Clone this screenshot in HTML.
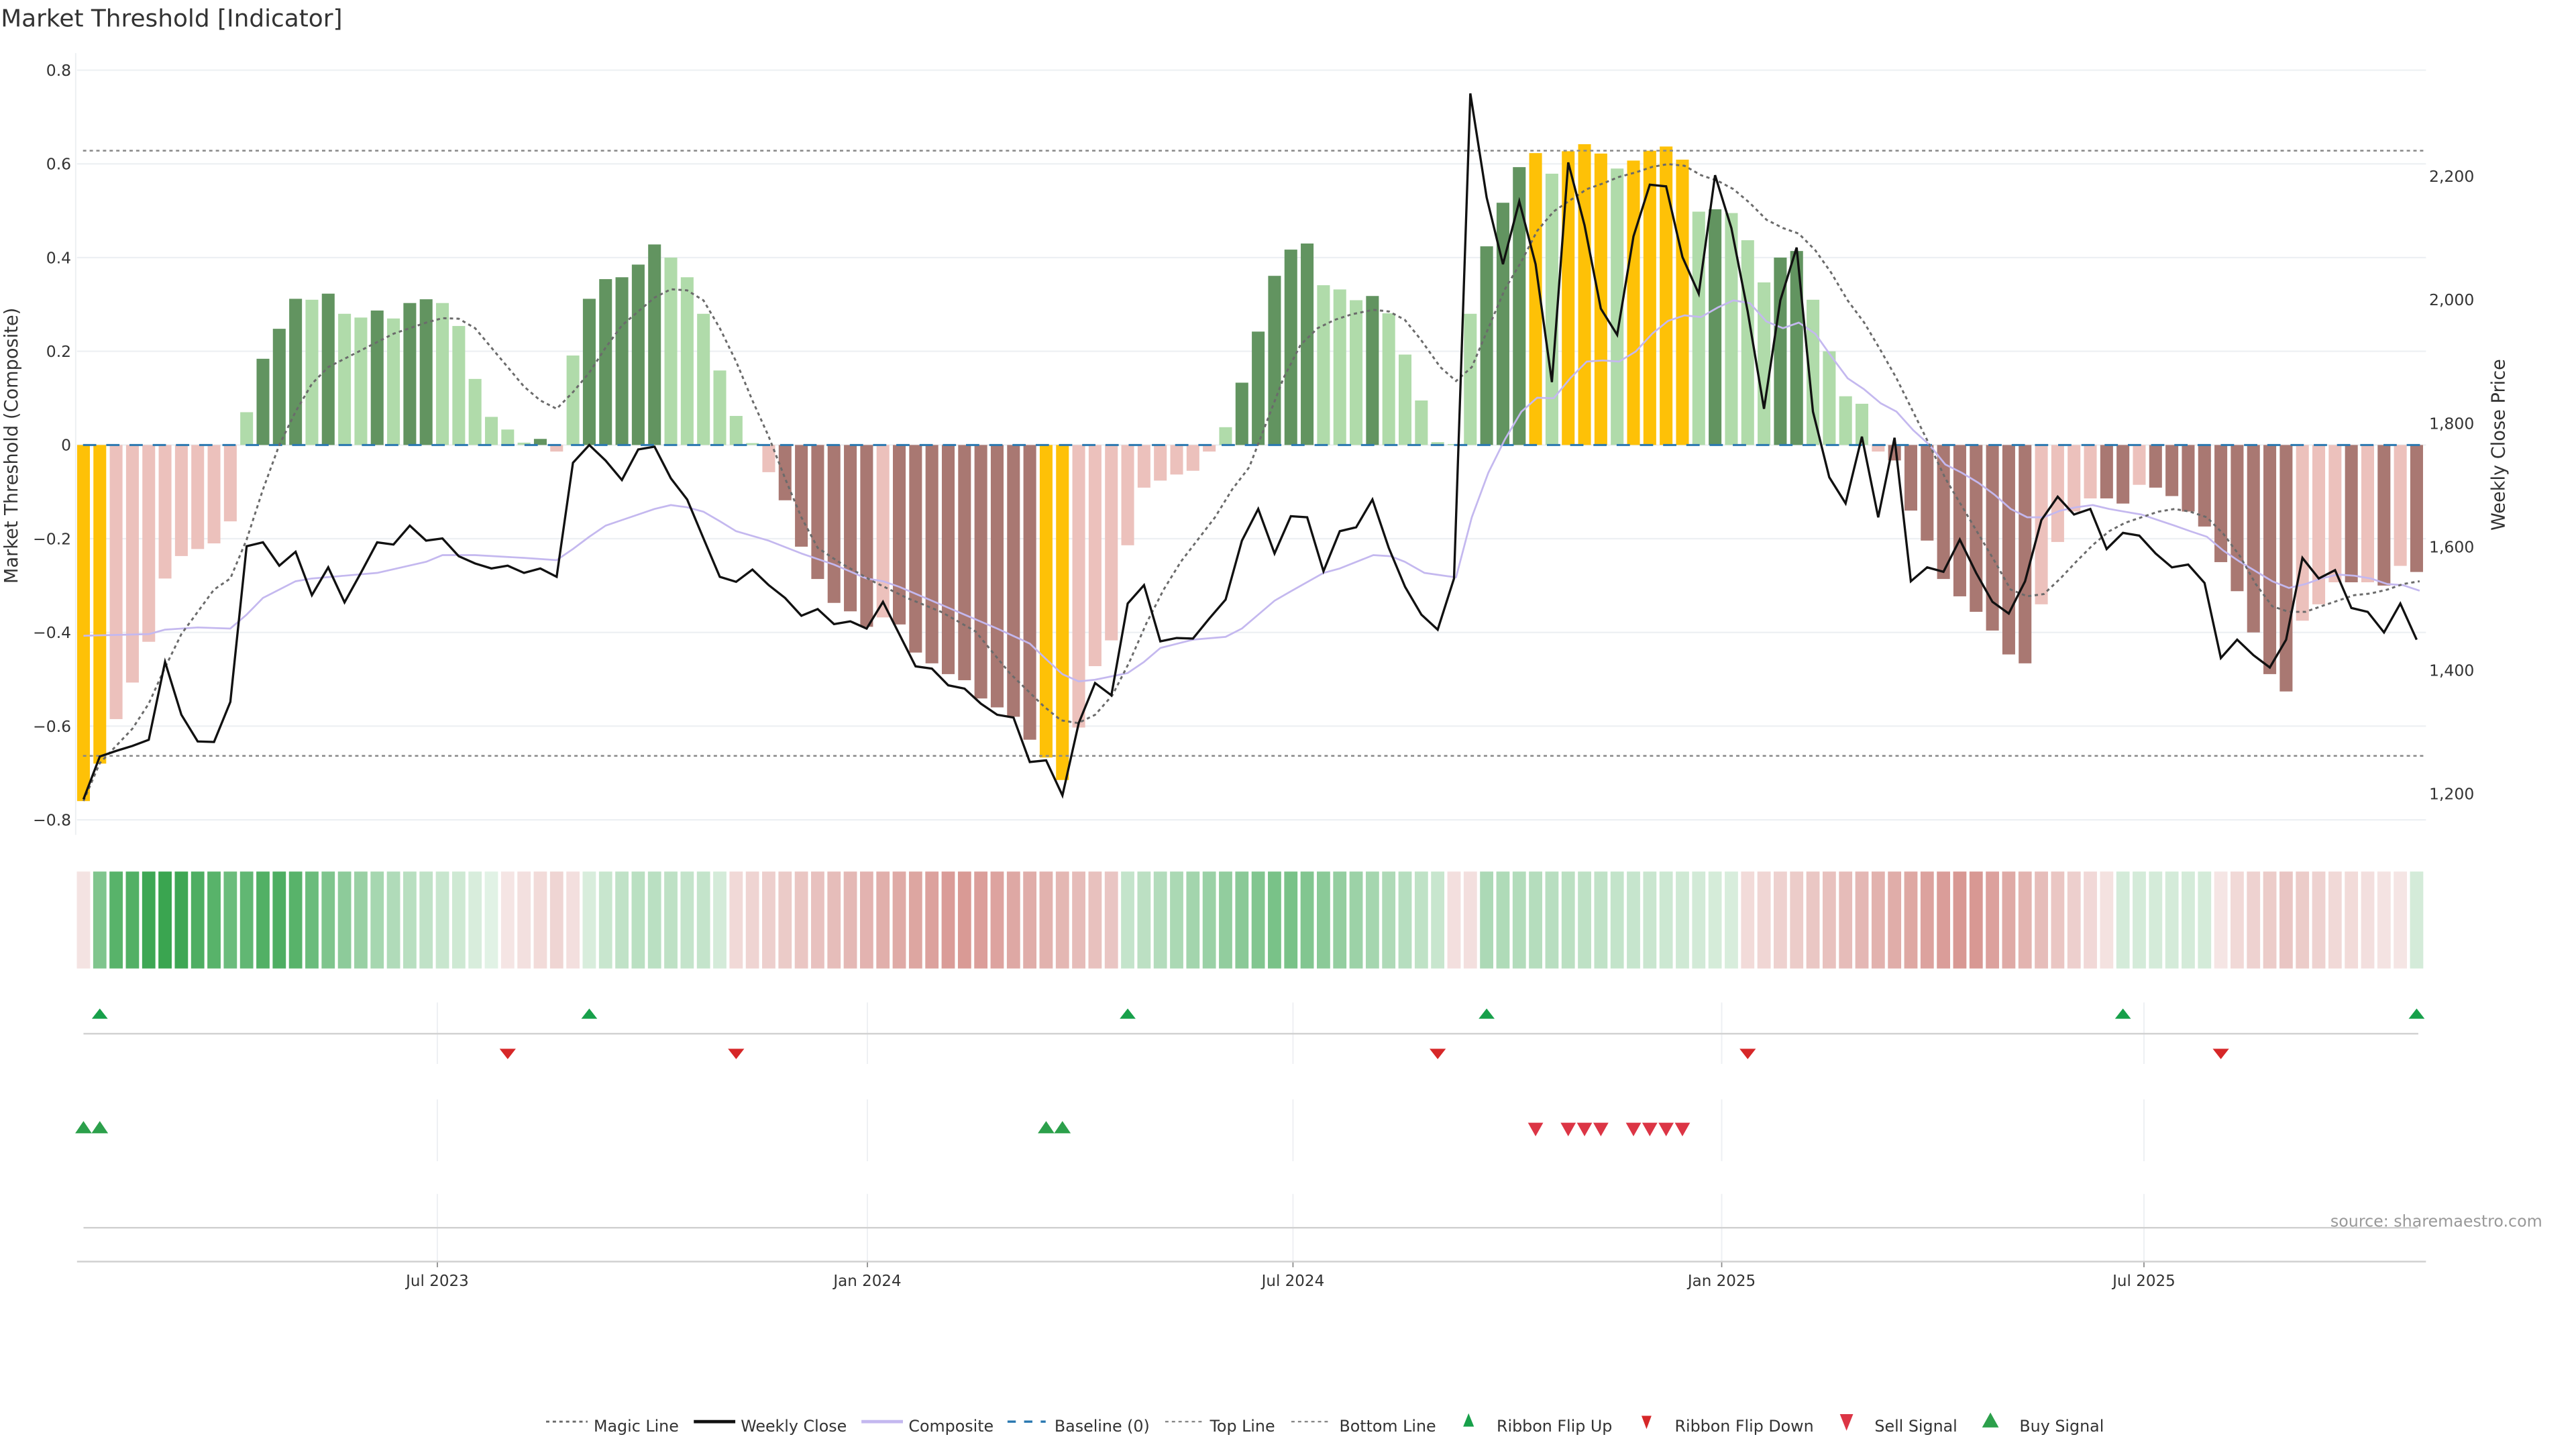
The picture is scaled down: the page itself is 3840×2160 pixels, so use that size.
<!DOCTYPE html>
<html><head><meta charset="utf-8">
<style>
html,body{margin:0;padding:0;background:#fff;}
svg{display:block;}
text{font-family:"DejaVu Sans","Liberation Sans",sans-serif;}
</style></head>
<body>
<svg id="c" xmlns="http://www.w3.org/2000/svg" width="3840" height="2160" viewBox="0 0 1552 873" preserveAspectRatio="none">
<rect x="0" y="0" width="1552" height="873" fill="#fff"/>
<text x="0.5" y="16" font-size="14.5" fill="#333">Market Threshold [Indicator]</text>
<g id="grid"></g>
<g id="bars"></g>
<g id="lines"></g>
<g id="lower"></g>
<g id="legend"></g>
</svg>
<script>
(function(){
var NS="http://www.w3.org/2000/svg";
function el(parent,tag,attrs,txt){var e=document.createElementNS(NS,tag);for(var k in attrs)e.setAttribute(k,attrs[k]);if(txt!==undefined)e.textContent=txt;document.getElementById(parent).appendChild(e);return e;}
var X0=50.3,DX=9.83,L=46.4,R=1461.6;
function bx(i){return X0+(i-1)*DX;}
function vy(v){return 268.1-v*282.3;}
function zy(z){return z/2.984;}
var vals=[0.8,0.6,0.4,0.2,0,-0.2,-0.4,-0.6,-0.8];
vals.forEach(function(v){var y=vy(v);
 el("grid","line",{x1:L,x2:R,y1:y,y2:y,stroke:"#edf0f3","stroke-width":0.9});
 var lab=(v===0)?"0":(v<0?"\u22120."+Math.round(Math.abs(v)*10):"0."+Math.round(v*10));
 el("grid","text",{x:42.9,y:y+3.4,"font-size":9.5,"text-anchor":"end",fill:"#333"},lab);
});
el("grid","line",{x1:45.6,x2:45.6,y1:32,y2:503,stroke:"#eceff2","stroke-width":0.8});
var prices=[2200,2000,1800,1600,1400,1200];
prices.forEach(function(p){var y=106.2+(2200-p)/200*74.4;
 el("grid","text",{x:1463.5,y:y+3.4,"font-size":9.5,fill:"#333"},p.toLocaleString("en-US"));});
el("grid","text",{x:0,y:0,"font-size":11,fill:"#333","text-anchor":"middle",transform:"translate(10.5,268.5) rotate(-90)"},"Market Threshold (Composite)");
el("grid","text",{x:0,y:0,"font-size":11,fill:"#333","text-anchor":"middle",transform:"translate(1509,268) rotate(-90)"},"Weekly Close Price");
var B=[[-0.76,'Y'],[-0.68,'Y'],[-0.585,'r'],[-0.507,'r'],[-0.42,'r'],[-0.285,'r'],[-0.237,'r'],[-0.222,'r'],[-0.21,'r'],[-0.163,'r'],
[0.07,'g'],[0.184,'G'],[0.248,'G'],[0.312,'G'],[0.31,'g'],[0.323,'G'],[0.28,'g'],[0.272,'g'],[0.287,'G'],[0.27,'g'],
[0.303,'G'],[0.311,'G'],[0.303,'g'],[0.254,'g'],[0.141,'g'],[0.06,'g'],[0.033,'g'],[0.005,'g'],[0.013,'G'],[-0.014,'r'],
[0.191,'g'],[0.312,'G'],[0.354,'G'],[0.358,'G'],[0.385,'G'],[0.428,'G'],[0.4,'g'],[0.358,'g'],[0.28,'g'],[0.159,'g'],
[0.062,'g'],[0.004,'g'],[-0.058,'r'],[-0.118,'R'],[-0.217,'R'],[-0.286,'R'],[-0.337,'R'],[-0.355,'R'],[-0.388,'R'],
[-0.368,'r'],[-0.383,'R'],[-0.443,'R'],[-0.466,'R'],[-0.489,'R'],[-0.502,'R'],[-0.541,'R'],[-0.56,'R'],[-0.58,'R'],[-0.629,'R'],
[-0.667,'Y'],[-0.715,'Y'],[-0.603,'r'],[-0.472,'r'],[-0.417,'r'],[-0.214,'r'],[-0.091,'r'],[-0.076,'r'],[-0.063,'r'],[-0.055,'r'],
[-0.014,'r'],[0.038,'g'],[0.133,'G'],[0.242,'G'],[0.361,'G'],[0.417,'G'],[0.43,'G'],[0.341,'g'],
[0.332,'g'],[0.309,'g'],[0.318,'G'],[0.281,'g'],[0.193,'g'],[0.095,'g'],[0.006,'g'],[0.002,'g'],[0.28,'g'],[0.424,'G'],
[0.517,'G'],[0.593,'G'],[0.623,'Y'],[0.579,'g'],[0.627,'Y'],[0.642,'Y'],[0.622,'Y'],[0.59,'g'],[0.607,'Y'],[0.628,'Y'],
[0.637,'Y'],[0.609,'Y'],[0.498,'g'],[0.503,'G'],[0.495,'g'],[0.437,'g'],[0.347,'g'],[0.4,'G'],[0.414,'G'],[0.31,'g'],
[0.2,'g'],[0.104,'g'],[0.088,'g'],[-0.014,'r'],[-0.033,'R'],[-0.14,'R'],[-0.204,'R'],[-0.286,'R'],[-0.323,'R'],[-0.356,'R'],
[-0.396,'R'],[-0.447,'R'],[-0.466,'R'],[-0.34,'r'],[-0.207,'r'],[-0.142,'r'],[-0.114,'r'],[-0.114,'R'],[-0.125,'R'],[-0.085,'r'],
[-0.091,'R'],[-0.109,'R'],[-0.142,'R'],[-0.174,'R'],[-0.25,'R'],[-0.312,'R'],[-0.4,'R'],[-0.489,'R'],[-0.526,'R'],[-0.375,'r'],
[-0.34,'r'],[-0.293,'r'],[-0.293,'R'],[-0.293,'r'],[-0.3,'R'],[-0.258,'r'],[-0.271,'R']];
var COL={Y:"#fec107",G:"#629460",g:"#b0dbaa",R:"#a97872",r:"#ecc1bc"};
var BW=7.7;
B.forEach(function(b,k){var x=bx(k+1)-BW/2,y0=vy(0),y1=vy(b[0]);
 el("bars","rect",{x:x,y:Math.min(y0,y1),width:BW,height:Math.max(0.4,Math.abs(y1-y0)),fill:COL[b[1]]});});
el("lines","line",{x1:50,x2:R,y1:90.8,y2:90.8,stroke:"#888","stroke-width":1,"stroke-dasharray":"2,2"});
el("lines","line",{x1:50,x2:R,y1:455.4,y2:455.4,stroke:"#888","stroke-width":1,"stroke-dasharray":"2,2"});
el("lines","line",{x1:50,x2:R,y1:268.1,y2:268.1,stroke:"#2a78b0","stroke-width":1.2,"stroke-dasharray":"8,6"});
function poly(pts,attrs){attrs.points=pts.map(function(p){return p[0].toFixed(2)+","+p[1].toFixed(2);}).join(" ");attrs.fill="none";el("lines","polyline",attrs);}
function z4(zx){return 505.2+zx*0.2062;}
function z2(zx){return 808.4+zx*0.4747;}
var comp=[];
[[1,1143],[5,1140],[6,1132],[8,1128],[10,1130],[11,1105],[12,1075],[14,1045],[15,1040],[17,1035],[19,1030],[22,1010],[23,998],[25,998],[28,1003],[30,1007],[31,987],[32,965],[33,945],[34,935],[36,915],[37,908],[38,912],[39,920],[40,937],[41,955],[43,972],[45,995],[47,1015],[49,1040],[50,1045],[51,1055],[53,1080],[55,1105],[57,1130],[59,1157],[60,1185],[61,1212],[62,1225],[63,1222],[65,1210],[66,1190],[67,1165],[69,1150],[71,1145],[72,1130],[73,1105],[74,1080],[75,1063],[77,1030],[78,1022]].forEach(function(p){comp.push([bx(p[0]),zy(p[1])]);});
[[40,998],[62,1000],[80,1010],[105,1030],[145,1038],[165,930],[186,850],[207,790],[228,740],[248,715],[269,716],[290,680],[311,650],[331,648],[352,650],[373,632],[394,600],[414,577],[435,567],[456,570],[477,553],[497,540],[518,545],[539,578],[560,590],[580,580],[601,600],[621,640],[642,680],[663,700],[684,725],[704,740],[725,773],[746,800],[766,835],[787,850],[808,868],[829,890],[849,915],[870,930],[891,930],[912,918],[932,912],[953,908],[974,915],[994,920],[1015,925],[1036,935],[1057,945],[1077,955],[1098,965],[1119,990],[1140,1010],[1160,1027],[1181,1045],[1202,1057],[1223,1050],[1243,1040],[1264,1033],[1285,1035],[1306,1040],[1327,1050],[1347,1052],[1368,1062]].forEach(function(p){comp.push([z2(p[0]),zy(p[1])]);});
poly(comp,{stroke:"#c4b8ef","stroke-width":1.1,"stroke-linejoin":"round"});
var mg=[];
[[1,1440],[2,1372],[4,1310],[5,1265],[6,1200],[7,1140],[8,1100],[9,1060],[10,1040],[11,970],[12,880],[13,800],[14,740],[15,690],[16,660],[17,645],[18,630],[19,615],[20,600],[21,590],[22,580],[23,572],[24,573],[25,590],[26,625],[27,660],[28,695],[29,720],[30,735],[31,705],[32,670],[33,625],[34,585],[35,560],[36,535],[37,520],[38,522],[39,540],[40,590],[41,650],[42,720],[43,785],[44,860],[45,930],[46,985]].forEach(function(p){mg.push([bx(p[0]),zy(p[1])]);});
[[0,1010],[100,1045],[200,1075],[300,1100],[400,1135],[500,1210],[600,1270],[650,1295],[700,1300],[750,1285],[800,1250],[850,1190],[900,1120],[950,1060],[1000,1010],[1050,970],[1100,930],[1150,880],[1200,840],[1250,760],[1300,680],[1350,620],[1400,590],[1450,575],[1500,565]].forEach(function(p){mg.push([z4(p[0]),zy(p[1])]);});
[[40,557],[60,560],[80,575],[100,610],[125,660],[145,685],[165,660],[186,590],[207,520],[228,470],[248,415],[269,380],[290,360],[311,340],[331,330],[352,318],[373,310],[394,300],[414,295],[435,298],[456,315],[477,325],[497,340],[518,365],[539,395],[560,410],[580,420],[601,450],[621,490],[642,540],[663,580],[684,630],[704,680],[725,740],[746,800],[766,860],[787,910],[808,960],[829,1010],[849,1060],[870,1072],[891,1068],[912,1040],[932,1010],[953,980],[974,955],[994,940],[1015,930],[1036,920],[1057,915],[1077,920],[1098,930],[1119,960],[1140,1000],[1160,1050],[1181,1090],[1202,1100],[1223,1100],[1243,1090],[1264,1080],[1285,1070],[1306,1067],[1327,1060],[1347,1050],[1368,1045]].forEach(function(p){mg.push([z2(p[0]),zy(p[1])]);});
poly(mg,{stroke:"#6b6b6b","stroke-width":1.2,"stroke-dasharray":"2,2"});
var W=[1437,1360,1350,1341,1330,1190,1285,1333,1334,1262,982,975,1017,992,1070,1020,1083,1030,975,979,945,972,968,1000,1013,1022,1017,1030,1022,1037,832,800,828,863,808,803,860,898,968,1037,1046,1024,1052,1075,1107,1095,1122,1117,1130,
1082,1140,1198,1202,1232,1238,1265,1285,1290,1370,1367,1430,1300,1228,1250,1085,1052,1153,1147,1148,1112,1078,972,915,995,928,930,1027,
955,948,898,985,1055,1105,1132,1040,168,355,475,362,475,687,292,405,555,602,425,332,335,462,528,315,410,560,735,540,445,740,858,905,785,930,787,1045,1020,1028,970,1030,1082,1103,1045,935,893,925,915,987,958,963,995,1020,1015,1048,1183,1150,1178,1200,1150,1003,1040,1025,1093,1100,1137,1085,1150];
poly(W.map(function(z,k){return [bx(k+1),zy(z)];}),{stroke:"#111","stroke-width":1.35,"stroke-linejoin":"miter"});
function mix(c,t){var r=parseInt(c.substr(1,2),16),g=parseInt(c.substr(3,2),16),b=parseInt(c.substr(5,2),16);
 function m(v){return Math.round(255+(v-255)*t);} return "rgb("+m(r)+","+m(g)+","+m(b)+")";}
var GI={2:.65,3:.85,4:.88,5:.98,6:1,7:.98,8:.9,9:.85,10:.75,11:.8,12:.88,13:.9,14:.85,15:.75,16:.65,17:.58,18:.52,19:.45,20:.4,21:.36,22:.32,23:.28,24:.25,25:.2,26:.15,
27:-.2,28:-.24,29:-.28,30:-.33,31:-.25,
32:.2,33:.28,34:.32,35:.35,36:.35,37:.33,38:.3,39:.3,40:.22};
function setR(a,b,f,sign){for(var i=a;i<=b;i++){GI[i]=sign*f((i-a)/Math.max(1,b-a));}}
setR(41,64,function(u){return u<0.6?0.3+0.5*(u/0.6):0.8-0.35*((u-0.6)/0.4);},-1);
setR(65,84,function(u){return u<0.5?0.3+0.4*(u/0.5):0.7-0.42*((u-0.5)/0.5);},1);
GI[85]=-.25;GI[86]=-.25;
setR(87,102,function(u){return 0.42-0.22*u;},1);
setR(103,125,function(u){return u<0.62?0.28+0.55*(u/0.62):0.83-0.6*((u-0.62)/0.38);},-1);
for(var i=126;i<=131;i++)GI[i]=.22;
var RT=[.2,.3,.35,.4,.45,.4,.35,.3,.28,.25,.22,.2];for(var i=132;i<=143;i++)GI[i]=-RT[i-132];
GI[1]=-.22;GI[144]=.22;
for(var i=1;i<=144;i++){var t=GI[i],c=t>=0?mix("#3aa550",t):mix("#cf7f79",-t);
 el("lower","rect",{x:bx(i)-4.0,y:525.1,width:8.0,height:58.4,fill:c});}
var dates=[[263.5,"Jul 2023"],[522.6,"Jan 2024"],[779,"Jul 2024"],[1037.3,"Jan 2025"],[1291.7,"Jul 2025"]];
dates.forEach(function(d){
 [[604,641],[662.4,699.6],[719.3,760]].forEach(function(r){el("lower","line",{x1:d[0],x2:d[0],y1:r[0],y2:r[1],stroke:"#eef0f3","stroke-width":0.8});});
 el("lower","line",{x1:d[0],x2:d[0],y1:760,y2:763.5,stroke:"#888","stroke-width":0.7});
 el("lower","text",{x:d[0],y:774.8,"font-size":9.3,"text-anchor":"middle",fill:"#333"},d[1]);});
el("lower","line",{x1:50.3,x2:1457,y1:622.8,y2:622.8,stroke:"#d0d0d0","stroke-width":1});
el("lower","line",{x1:50.3,x2:1457,y1:739.7,y2:739.7,stroke:"#d0d0d0","stroke-width":1});
el("lower","line",{x1:L,x2:R,y1:760.1,y2:760.1,stroke:"#d0d0d0","stroke-width":1});
function up(g,x,yc,w,h,c){el(g,"polygon",{points:(x-w/2)+","+(yc+h/2)+" "+(x+w/2)+","+(yc+h/2)+" "+x+","+(yc-h/2),fill:c});}
function dn(g,x,yc,w,h,c){el(g,"polygon",{points:(x-w/2)+","+(yc-h/2)+" "+(x+w/2)+","+(yc-h/2)+" "+x+","+(yc+h/2),fill:c});}
[2,32,65,87,126,144].forEach(function(i){up("lower",bx(i),610.7,9.6,6.2,"#17a04a");});
[27,41,84,103,132].forEach(function(i){dn("lower",bx(i),635,9.8,6.3,"#d62728");});
[1,2,60,61].forEach(function(i){up("lower",bx(i),679.1,10,7.4,"#2ca04b");});
[90,92,93,94,96,97,98,99].forEach(function(i){dn("lower",bx(i),680.5,9.2,8.2,"#dc3545");});
el("lower","text",{x:1531.7,y:739,"font-size":9.6,"text-anchor":"end",fill:"#999"},"source: sharemaestro.com");
var LY=860,TY=LY-0.5;
function lt(x,s){el("legend","text",{x:x,y:TY+3,"font-size":9.6,fill:"#333"},s);}
el("legend","line",{x1:329,x2:354,y1:LY-3.5,y2:LY-3.5,stroke:"#6b6b6b","stroke-width":1.2,"stroke-dasharray":"2,2"});lt(357.7,"Magic Line");
el("legend","line",{x1:418,x2:443,y1:LY-3.5,y2:LY-3.5,stroke:"#111","stroke-width":2});lt(446.3,"Weekly Close");
el("legend","line",{x1:519,x2:544,y1:LY-3.5,y2:LY-3.5,stroke:"#c4b8ef","stroke-width":2});lt(547.4,"Composite");
el("legend","line",{x1:607,x2:630,y1:LY-3.5,y2:LY-3.5,stroke:"#2a78b0","stroke-width":1.4,"stroke-dasharray":"5,5"});lt(635.3,"Baseline (0)");
el("legend","line",{x1:702,x2:724,y1:LY-3.5,y2:LY-3.5,stroke:"#888","stroke-width":1,"stroke-dasharray":"2,2"});lt(728.9,"Top Line");
el("legend","line",{x1:778,x2:802,y1:LY-3.5,y2:LY-3.5,stroke:"#888","stroke-width":1,"stroke-dasharray":"2,2"});lt(806.9,"Bottom Line");
up("legend",884.8,LY-4.5,6.5,8,"#17a04a");lt(901.7,"Ribbon Flip Up");
dn("legend",992,LY-3,6,8,"#d62728");lt(1009,"Ribbon Flip Down");
dn("legend",1112.5,LY-3,8,10,"#dc3545");lt(1129.4,"Sell Signal");
up("legend",1199.2,LY-4.5,10,9,"#2ca04b");lt(1216.7,"Buy Signal");
})();
</script>
</body></html>
